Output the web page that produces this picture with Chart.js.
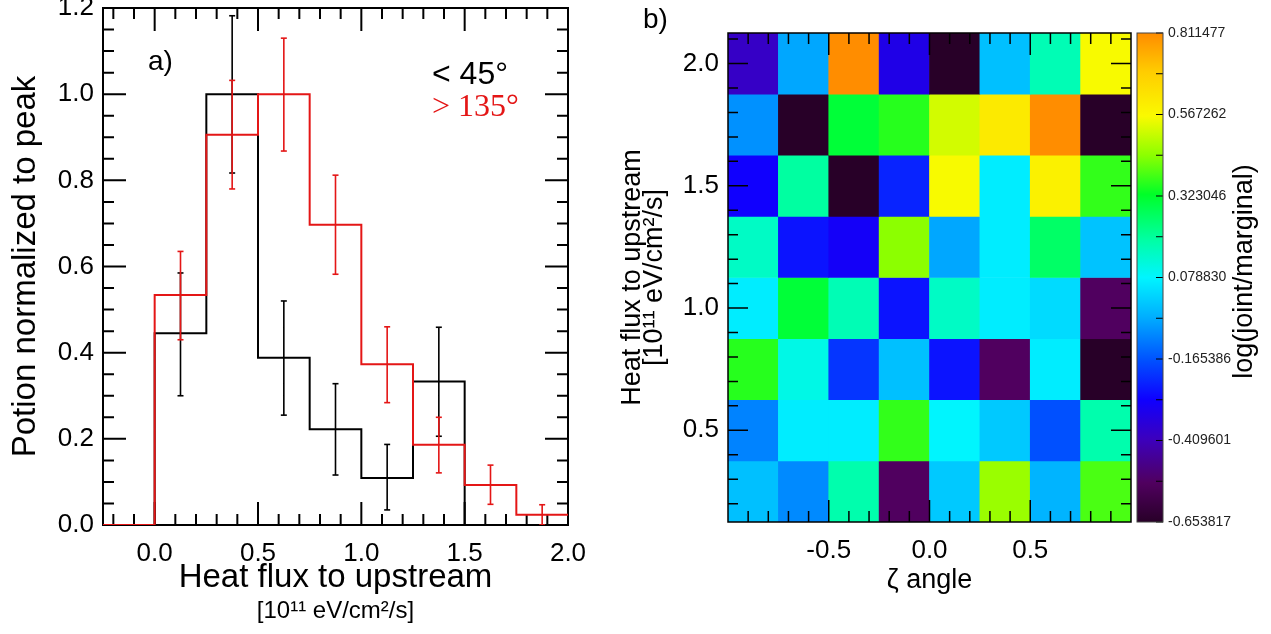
<!DOCTYPE html>
<html>
<head>
<meta charset="utf-8">
<script src="https://cdn.jsdelivr.net/npm/chart.js@4.4.0/dist/chart.umd.min.js"></script>
<style>
body { margin: 0; background: #fff; }
canvas { position: absolute; top: 0; }
</style>
</head>
<body>
<canvas id="hist" width="600" height="634" style="left:0"></canvas>
<canvas id="heat" width="535" height="634" style="left:600px"></canvas>
<canvas id="cbar" width="136" height="634" style="left:1135px"></canvas>
<script>
// a) histogram, bins of 0.25
var binEdges = [0, 0.25, 0.5, 0.75, 1.0, 1.25, 1.5, 1.75, 2.0];
var blackVals = [0.445, 1.0, 0.388, 0.222, 0.109, 0.333];
var blackLo = [0.30, 0.817, 0.255, 0.116, 0.035, 0.206];
var blackHi = [0.585, 1.182, 0.52, 0.328, 0.187, 0.459];
var redVals = [0.534, 0.906, 1.0, 0.697, 0.373, 0.186, 0.093, 0.024];
var redLo = [0.43, 0.78, 0.868, 0.582, 0.284, 0.121, 0.048, 0.0];
var redHi = [0.635, 1.032, 1.13, 0.812, 0.46, 0.25, 0.139, 0.047];
var histXTicks = [0, 0.5, 1.0, 1.5, 2.0];
var histYTicks = [0, 0.2, 0.4, 0.6, 0.8, 1.0, 1.2];

// b) heat map, rows from flux 0.25 (bottom) up to 2.0 (top)
var zetaCenters = [-0.875, -0.625, -0.375, -0.125, 0.125, 0.375, 0.625, 0.875];
var fluxCenters = [0.25, 0.5, 0.75, 1.0, 1.25, 1.5, 1.75, 2.0];
var heatRows = [
  [-0.01, -0.09, 0.18, -0.537, 0.005, 0.46, -0.03, 0.39],
  [-0.10, 0.065, 0.065, 0.37, 0.08, 0.005, -0.17, 0.18],
  [0.36, 0.11, -0.21, -0.01, -0.26, -0.537, 0.065, -0.654],
  [0.065, 0.31, 0.17, -0.26, 0.15, 0.065, 0.035, -0.537],
  [0.15, -0.26, -0.30, 0.445, -0.05, 0.065, 0.26, -0.005],
  [-0.29, 0.195, -0.654, -0.236, 0.56, 0.065, 0.59, 0.37],
  [-0.08, -0.654, 0.31, 0.36, 0.52, 0.61, 0.81, -0.654],
  [-0.39, -0.05, 0.81, -0.33, -0.654, -0.01, 0.17, 0.56]
];
var heatXTicks = [-0.5, 0.0, 0.5];
var heatYTicks = [0.5, 1.0, 1.5, 2.0];
var cbarTicks = [-0.653817, -0.409601, -0.165386, 0.078830, 0.323046, 0.567262, 0.811477];

Chart.defaults.font.family = '"Liberation Sans", Arial, sans-serif';
Chart.defaults.color = '#000';

var cmin = cbarTicks[0], cmax = cbarTicks[cbarTicks.length - 1];
var cmapStops = [
  [0.00, 40, 0, 40], [0.08, 80, 0, 95], [0.17, 60, 0, 190], [0.25, 15, 0, 255],
  [0.33, 0, 80, 255], [0.42, 0, 175, 255], [0.50, 0, 245, 255], [0.58, 0, 255, 160],
  [0.67, 0, 255, 40], [0.75, 140, 255, 0], [0.83, 250, 250, 0], [0.92, 255, 205, 0],
  [1.00, 255, 140, 0]
];
function cmap(v) {
  var t = Math.max(0, Math.min(1, (v - cmin) / (cmax - cmin)));
  for (var i = 1; i < cmapStops.length; i++) {
    var a = cmapStops[i - 1], b = cmapStops[i];
    if (t <= b[0]) {
      var f = (t - a[0]) / (b[0] - a[0]);
      return 'rgb(' + [1, 2, 3].map(function(k) { return Math.round(a[k] + f * (b[k] - a[k])); }).join(',') + ')';
    }
  }
  return 'rgb(255,140,0)';
}

// tick marks drawn inward on all four sides, plus the frame
function tickList(from, to, step, majorStep, majorLen, minorLen) {
  var out = [];
  for (var v = from; v <= to + 1e-9; v += step) {
    var r = v / majorStep;
    out.push([v, Math.abs(r - Math.round(r)) < 1e-6 ? majorLen : minorLen]);
  }
  return out;
}
function frameTicks(xt, yt, width, hook) {
  var p = { id: 'frameTicks' };
  p[hook] = function(chart) {
    var ctx = chart.ctx, a = chart.chartArea, sx = chart.scales.x, sy = chart.scales.y;
    ctx.save();
    ctx.strokeStyle = '#000';
    ctx.lineWidth = width;
    ctx.beginPath();
    xt.forEach(function(t) {
      var px = sx.getPixelForValue(t[0]);
      ctx.moveTo(px, a.bottom); ctx.lineTo(px, a.bottom - t[1]);
      ctx.moveTo(px, a.top); ctx.lineTo(px, a.top + t[1]);
    });
    yt.forEach(function(t) {
      var py = sy.getPixelForValue(t[0]);
      ctx.moveTo(a.left, py); ctx.lineTo(a.left + t[1], py);
      ctx.moveTo(a.right, py); ctx.lineTo(a.right - t[1], py);
    });
    ctx.stroke();
    ctx.strokeRect(a.left, a.top, a.right - a.left, a.bottom - a.top);
    ctx.restore();
  };
  return p;
}
function fixedAxis(size, horizontal) {
  return function(s) {
    if (horizontal) { s.height = size; s.paddingLeft = 0; s.paddingRight = 0; }
    else { s.width = size; s.paddingTop = 0; s.paddingBottom = 0; }
  };
}
function setTicks(vals) {
  return function(s) { s.ticks = vals.map(function(v) { return { value: v }; }); };
}

// ---------- a) histogram ----------
function stepPoints(vals, drop) {
  var pts = [{ x: -0.25, y: 0 }];
  vals.forEach(function(v, i) { pts.push({ x: binEdges[i], y: v }); });
  pts.push({ x: binEdges[vals.length], y: vals[vals.length - 1] });
  if (drop) pts.push({ x: binEdges[vals.length], y: 0 });
  return pts;
}
function errPoints(lo, hi) {
  var pts = [];
  lo.forEach(function(l, i) {
    var c = (binEdges[i] + binEdges[i + 1]) / 2;
    pts.push({ x: c, y: l }, { x: c, y: hi[i] }, { x: c, y: null });
  });
  return pts;
}
var red = 'rgb(228,22,22)';

var histNotes = {
  id: 'histNotes',
  afterDraw: function(chart) {
    var ctx = chart.ctx, a = chart.chartArea;
    ctx.save();
    ctx.textBaseline = 'middle';
    ctx.fillStyle = '#000';
    ctx.font = '28px "Liberation Sans"';
    ctx.fillText('a)', 148, 62);
    ctx.font = '32px "Liberation Sans"';
    ctx.fillText('< 45°', 432, 75);
    ctx.fillStyle = red;
    ctx.font = '32px "Liberation Serif"';
    ctx.fillText('> 135°', 432, 108);
    ctx.fillStyle = '#000';
    ctx.font = '24px "Liberation Sans"';
    ctx.textAlign = 'center';
    ctx.fillText('[10¹¹ eV/cm²/s]', (a.left + a.right) / 2, 611);
    ctx.restore();
  }
};

new Chart(document.getElementById('hist'), {
  type: 'scatter',
  data: {
    datasets: [
      { data: errPoints(redLo, redHi), showLine: true, spanGaps: false, borderColor: red, borderWidth: 1.6,
        pointStyle: 'line', pointRadius: 3, pointBorderWidth: 1.6, pointBorderColor: red, order: 0 },
      { data: stepPoints(redVals, false), showLine: true, stepped: 'before', borderColor: red, borderWidth: 2,
        pointRadius: 0, order: 1 },
      { data: errPoints(blackLo, blackHi), showLine: true, spanGaps: false, borderColor: '#000', borderWidth: 1.6,
        pointStyle: 'line', pointRadius: 3, pointBorderWidth: 1.6, pointBorderColor: '#000', order: 2 },
      { data: stepPoints(blackVals, true), showLine: true, stepped: 'before', borderColor: '#000', borderWidth: 2,
        pointRadius: 0, order: 3 }
    ]
  },
  options: {
    responsive: false,
    animation: false,
    layout: { padding: { left: 0, right: 32, top: 8, bottom: 0 } },
    plugins: { legend: { display: false }, tooltip: { enabled: false } },
    scales: {
      x: {
        type: 'linear', min: -0.25, max: 2.0,
        grid: { display: false, drawTicks: false }, border: { display: false },
        afterBuildTicks: setTicks(histXTicks), afterFit: fixedAxis(109, true),
        ticks: { font: { size: 26 }, padding: 13, maxRotation: 0, callback: function(v) { return v.toFixed(1); } },
        title: { display: true, text: 'Heat flux to upstream', font: { size: 33 }, padding: { top: 0, bottom: 36 } }
      },
      y: {
        type: 'linear', min: 0, max: 1.2,
        grid: { display: false, drawTicks: false }, border: { display: false },
        afterBuildTicks: setTicks(histYTicks), afterFit: fixedAxis(103, false),
        ticks: { font: { size: 26 }, padding: 9, callback: function(v) { return v.toFixed(1); } },
        title: { display: true, text: 'Potion normalized to peak', font: { size: 33 }, padding: { top: 6, bottom: 0 } }
      }
    }
  },
  plugins: [frameTicks(tickList(-0.2, 2.0, 0.1, 0.5, 23, 11), tickList(0, 1.2, 0.05, 0.2, 23, 11), 2, 'beforeDatasetsDraw'), histNotes]
});

// ---------- b) heat map ----------
var heatCells = [];
fluxCenters.forEach(function(f, r) {
  zetaCenters.forEach(function(z, c) {
    heatCells.push({ x: z, y: [f - 0.125, f + 0.125], v: heatRows[r][c] });
  });
});

var heatNotes = {
  id: 'heatNotes',
  afterDraw: function(chart) {
    var ctx = chart.ctx, a = chart.chartArea;
    ctx.save();
    ctx.fillStyle = '#000';
    ctx.textBaseline = 'middle';
    ctx.font = '28px "Liberation Sans"';
    ctx.fillText('b)', 43, 20);
    ctx.translate(0, (a.top + a.bottom) / 2);
    ctx.rotate(-Math.PI / 2);
    ctx.textAlign = 'center';
    ctx.font = '27px "Liberation Sans"';
    ctx.fillText('Heat flux to upstream', 0, 33);
    ctx.fillText('[10¹¹ eV/cm²/s]', 0, 55);
    ctx.restore();
  }
};

new Chart(document.getElementById('heat'), {
  type: 'bar',
  data: {
    datasets: [{
      data: heatCells,
      backgroundColor: function(c) { return cmap(c.raw.v); },
      borderWidth: 0, categoryPercentage: 1, barPercentage: 1
    }]
  },
  options: {
    responsive: false,
    animation: false,
    layout: { padding: { left: 0, right: 4, top: 33, bottom: 0 } },
    plugins: { legend: { display: false }, tooltip: { enabled: false } },
    scales: {
      x: {
        type: 'linear', min: -1, max: 1, offset: false,
        grid: { display: false, drawTicks: false }, border: { display: false },
        afterBuildTicks: setTicks(heatXTicks), afterFit: fixedAxis(112, true),
        ticks: { font: { size: 26 }, padding: 13, maxRotation: 0, callback: function(v) { return v.toFixed(1); } },
        title: { display: true, text: 'ζ angle', font: { size: 27 }, padding: { top: 0, bottom: 37 } }
      },
      y: {
        type: 'linear', min: 0.125, max: 2.125,
        grid: { display: false, drawTicks: false }, border: { display: false },
        afterBuildTicks: setTicks(heatYTicks), afterFit: fixedAxis(128, false),
        ticks: { font: { size: 26 }, padding: 9, callback: function(v) { return v.toFixed(1); } }
      }
    }
  },
  plugins: [frameTicks(tickList(-0.9, 0.9, 0.1, 0.5, 22, 11), tickList(0.2, 2.1, 0.1, 0.5, 20, 10), 1.5, 'afterDraw'), heatNotes]
});

// ---------- colour bar ----------
var cbarNotes = {
  id: 'cbarNotes',
  afterDraw: function(chart) {
    var ctx = chart.ctx, a = chart.chartArea, sy = chart.scales.y;
    ctx.save();
    ctx.strokeStyle = '#000';
    ctx.lineWidth = 1;
    ctx.beginPath();
    for (var i = 0; i < cbarTicks.length; i++) {
      var p = sy.getPixelForValue(cbarTicks[i]);
      ctx.moveTo(a.right, p); ctx.lineTo(a.right - 7, p);
      if (i > 0) {
        var m = sy.getPixelForValue((cbarTicks[i] + cbarTicks[i - 1]) / 2);
        ctx.moveTo(a.right, m); ctx.lineTo(a.right - 7, m);
      }
    }
    ctx.stroke();
    ctx.strokeStyle = '#444';
    ctx.strokeRect(a.left, a.top, a.right - a.left, a.bottom - a.top);
    ctx.fillStyle = '#000';
    ctx.font = '27px "Liberation Sans"';
    ctx.textAlign = 'center';
    ctx.textBaseline = 'middle';
    ctx.translate(110, (a.top + a.bottom) / 2 - 6);
    ctx.rotate(-Math.PI / 2);
    ctx.fillText('log(joint/marginal)', 0, 0);
    ctx.restore();
  }
};

new Chart(document.getElementById('cbar'), {
  type: 'bar',
  data: {
    labels: ['c'],
    datasets: [{
      data: [[cmin, cmax]],
      backgroundColor: function(c) {
        var ch = c.chart;
        if (!ch.chartArea) return 'rgba(0,0,0,0)';
        var sy = ch.scales.y;
        var g = ch.ctx.createLinearGradient(0, sy.getPixelForValue(cmin), 0, sy.getPixelForValue(cmax));
        cmapStops.forEach(function(s) { g.addColorStop(s[0], 'rgb(' + s[1] + ',' + s[2] + ',' + s[3] + ')'); });
        return g;
      },
      borderWidth: 0, categoryPercentage: 1, barPercentage: 1
    }]
  },
  options: {
    responsive: false,
    animation: false,
    layout: { padding: { left: 2, right: 0, top: 33, bottom: 112 } },
    plugins: { legend: { display: false }, tooltip: { enabled: false } },
    scales: {
      x: { display: false },
      y: {
        position: 'right', min: cmin, max: cmax,
        grid: { display: false, drawTicks: false }, border: { display: false },
        afterBuildTicks: setTicks(cbarTicks), afterFit: fixedAxis(108, false),
        ticks: { font: { size: 14 }, padding: 5, color: '#222', callback: function(v) { return v.toFixed(6); } }
      }
    }
  },
  plugins: [cbarNotes]
});
</script>
</body>
</html>
